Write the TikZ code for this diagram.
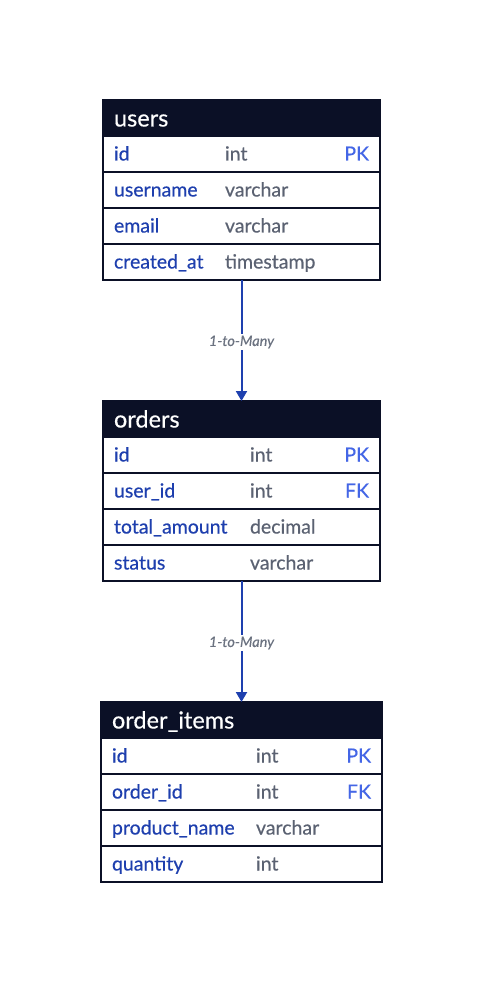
\documentclass[tikz,border=0pt]{standalone}
\usepackage{fontspec}
\setmainfont{Lato}[FakeBold=0.4]
\usetikzlibrary{arrows.meta,positioning}
\definecolor{navy}{HTML}{0B1026}
\definecolor{fieldblue}{HTML}{1E3FAE}
\definecolor{typegray}{HTML}{5B6272}
\definecolor{keyblue}{HTML}{4466E6}
\definecolor{linkblue}{HTML}{1E40AF}
\definecolor{labelgray}{HTML}{6B7280}
% one table row: name column width / name / type / key
\newcommand{\erdfield}[4]{\makebox[#1][l]{\color{fieldblue}#2}{\color{typegray}#3}\hfill{\color{keyblue}#4}}

\begin{document}
\begin{tikzpicture}[x=1pt, y=-1pt,% styles used in image code
         > = {Triangle[width=11pt,length=10pt]},
head/.style = {fill=navy, draw=navy, line width=1.8pt, text=white,
              anchor=north west, text width=#1, align=left,
              inner xsep=11pt, inner ysep=0pt, outer sep=0pt,
              minimum height=36pt, text height=18pt, text depth=1pt,
              font=\fontsize{23.5}{26}\selectfont},
field/.style = {fill=white, draw=navy, line width=1.8pt,
              anchor=north west, text width=#1, align=left,
              inner xsep=11pt, inner ysep=0pt, outer sep=0pt,
              minimum height=36pt, text height=14pt, text depth=1pt,
              font=\fontsize{19.5}{22}\selectfont},
link/.style = {draw=linkblue, line width=2pt, ->},
rel/.style = {fill=white, text=labelgray, inner sep=2pt, yshift=-1.5pt,
              font=\fontsize{14.5}{16}\selectfont\itshape}
                        ]
	% canvas
	\fill[white] (0,0) rectangle (483,984);
	\useasboundingbox (0,0) rectangle (483,984);

	% users
	\node[head=255pt] (usr) at (103,100) {users};
	\foreach \n/\t/\k [count=\i] in {id/int/PK, username/varchar/{},
	    email/varchar/{}, created\_at/timestamp/{}}
	  \node[field=255pt] (usr-\i) at (103,{100+36*\i}) {\erdfield{111pt}{\n}{\t}{\k}};

	% orders
	\node[head=255pt] (ord) at (103,401) {orders};
	\foreach \n/\t/\k [count=\i] in {id/int/PK, user\_id/int/FK,
	    total\_amount/decimal/{}, status/varchar/{}}
	  \node[field=255pt] (ord-\i) at (103,{401+36*\i}) {\erdfield{136pt}{\n}{\t}{\k}};

	% order_items
	\node[head=259pt] (itm) at (101,702) {order\_items};
	\foreach \n/\t/\k [count=\i] in {id/int/PK, order\_id/int/FK,
	    product\_name/varchar/{}, quantity/int/{}}
	  \node[field=259pt] (itm-\i) at (101,{702+36*\i}) {\erdfield{144pt}{\n}{\t}{\k}};

	% relations
	\draw[link] (usr-4.south) -- node[rel] {1-to-Many} (ord.north);
	\draw[link] (ord-4.south) -- node[rel] {1-to-Many} (itm.north);
\end{tikzpicture}
\end{document}
